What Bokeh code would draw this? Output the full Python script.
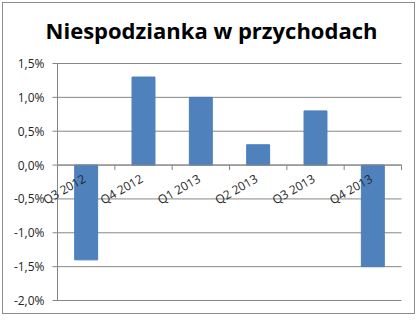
import math
from bokeh.plotting import figure
from bokeh.models import Range1d
from bokeh.core.properties import value
from bokeh.embed import file_html
from bokeh.resources import INLINE

# ---- data ----
quarters = ["Q3 2012", "Q4 2012", "Q1 2013", "Q2 2013", "Q3 2013", "Q4 2013"]
surprise = [-1.4, 1.3, 1.0, 0.3, 0.8, -1.5]
y_ticks = [-2.0, -1.5, -1.0, -0.5, 0.0, 0.5, 1.0, 1.5]
y_tick_labels = ["-2,0%", "-1,5%", "-1,0%", "-0,5%", "0,0%", "0,5%", "1,0%", "1,5%"]
title = "Niespodzianka w przychodach"

n = len(quarters)
centers = [i + 0.5 for i in range(n)]
bounds = [i + 1 for i in range(n)]

FONT = "Open Sans"
GRID = "#868686"
TXT = "#262626"

# ---- layout (pixels inside the 413x312 canvas) ----
W, H = 413, 312
PLOT_L, PLOT_R = 54, 398      # plot area left/right edges
PLOT_T, PLOT_B = 60, 297      # plot area top/bottom edges
ymin, ymax = y_ticks[0], y_ticks[-1]
sx = (PLOT_R - PLOT_L) / n            # px per category
sy = (PLOT_B - PLOT_T) / (ymax - ymin)  # px per percent unit

x_range = Range1d(-PLOT_L / sx, n + (W - PLOT_R) / sx)
y_range = Range1d(ymin - (H - PLOT_B) / sy, ymax + PLOT_T / sy)

p = figure(width=W, height=H, output_backend="svg", toolbar_location=None,
           x_range=x_range, y_range=y_range,
           x_axis_location=None, y_axis_location=None,
           min_border=0, min_border_left=0, min_border_right=0,
           min_border_top=0, min_border_bottom=0)
p.styles = {"margin-left": "2px", "margin-top": "2px", "border": "1px solid #8c8c8c"}
p.outline_line_color = None
p.background_fill_color = "white"
p.border_fill_color = "white"
p.grid.visible = False

tick_out = 5 / sx
# horizontal gridlines (with outside ticks on value axis)
p.segment(x0=[-tick_out] * len(y_ticks), y0=y_ticks, x1=[n] * len(y_ticks), y1=y_ticks,
          line_color=GRID, line_width=1)
# value axis line
p.segment(x0=[0], y0=[ymin], x1=[0], y1=[ymax], line_color=GRID, line_width=1)
# value axis labels
p.text(x=[0] * len(y_ticks), y=y_ticks, text=y_tick_labels, x_offset=-13,
       text_align="right", text_baseline="middle",
       text_font=value(FONT), text_font_size="12px", text_color=TXT)

# bars
p.vbar(x=centers, top=surprise, bottom=0, width=0.4, fill_color="#4F81BD", line_color="#4A7EBB")

# category axis at zero
p.segment(x0=[0], y0=[0], x1=[n], y1=[0], line_color=GRID, line_width=1)
p.segment(x0=bounds, y0=[0] * n, x1=bounds, y1=[-5 / sy] * n, line_color=GRID, line_width=1)
p.text(x=centers, y=[0] * n, text=quarters, angle=math.pi / 6,
       text_align="right", text_baseline="top", x_offset=-6, y_offset=5,
       text_font=value(FONT), text_font_size="12px", text_color=TXT)

# title
p.text(x=[(x_range.start + x_range.end) / 2 + 1.5 / sx], y=[ymax + 34 / sy], text=[title],
       text_align="center", text_baseline="alphabetic",
       text_font=value(FONT), text_font_style="bold", text_font_size="22px",
       text_color="#000000")

open("out.html", "w").write(file_html(p, INLINE))
